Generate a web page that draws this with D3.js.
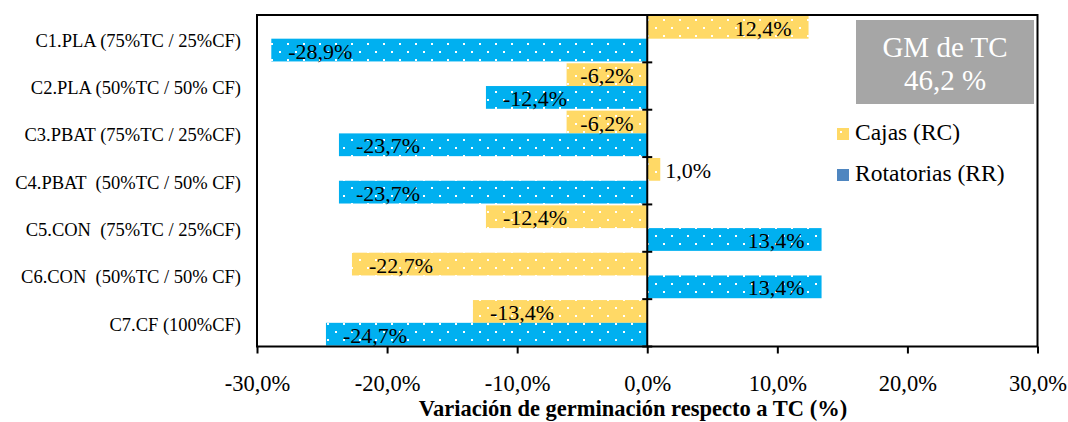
<!DOCTYPE html>
<html>
<head>
<meta charset="utf-8">
<script src="https://cdn.jsdelivr.net/npm/d3@7"></script>
<style>
  html, body { margin: 0; padding: 0; background: #fff; }
  svg { display: block; }
  text { font-family: "Liberation Serif", "Times New Roman", serif; }
</style>
</head>
<body>
<svg id="chart" width="1068" height="422" font-family="Liberation Serif, Times New Roman, serif"></svg>
<script>
// Categories (top to bottom) and the two series, in % of change vs. TC
const categories = [
  "C1.PLA (75%TC / 25%CF)",
  "C2.PLA (50%TC / 50% CF)",
  "C3.PBAT (75%TC / 25%CF)",
  "C4.PBAT  (50%TC / 50% CF)",
  "C5.CON  (75%TC / 25%CF)",
  "C6.CON  (50%TC / 50% CF)",
  "C7.CF (100%CF)"
];
const seriesNames = ["Cajas (RC)", "Rotatorias (RR)"];
const cajas = [12.4, -6.2, -6.2, 1.0, -12.4, -22.7, -13.4];
const rotatorias = [-28.9, -12.4, -23.7, -23.7, 13.4, 13.4, -24.7];
const xTicks = [-30, -20, -10, 0, 10, 20, 30];
const xDomain = [-30, 30];
const axisTitle = "Variación de germinación respecto a TC (%)";
const boxLines = ["GM de TC", "46,2 %"];

const seriesValues = [cajas, rotatorias];
const barColors = ["#FFD966", "#00B0F0"];
const legendColors = ["#FFD966", "#4F86C0"];

const svg = d3.select("#chart");
const plot = { left: 257, right: 1037.5, top: 15, bottom: 346.5 };

const x = d3.scaleLinear().domain(xDomain).range([plot.left, plot.right]);
const y = d3.scaleBand().domain(categories).range([plot.top, plot.bottom]).padding(0);
const ySub = d3.scaleBand().domain(seriesNames).range([0, y.bandwidth()]).paddingOuter(0.04).paddingInner(0);

// one decimal, comma separator, plain hyphen for negatives
const fmt = v => d3.format(".1f")(v).replace(".", ",").replace("\u2212", "-") + "%";

// dotted fill patterns
const defs = svg.append("defs");
barColors.forEach((c, i) => {
  const p = defs.append("pattern")
    .attr("id", "dots" + i)
    .attr("patternUnits", "userSpaceOnUse")
    .attr("width", 16).attr("height", 16)
    .attr("x", 15).attr("y", 11);
  p.append("rect").attr("width", 16).attr("height", 16).attr("fill", c);
  p.append("rect").attr("x", 0).attr("y", 0).attr("width", 2).attr("height", 2).attr("fill", "#fff");
  p.append("rect").attr("x", 8).attr("y", 8).attr("width", 2).attr("height", 2).attr("fill", "#fff");
});

// bars
const rows = [];
categories.forEach((cat, ci) => {
  seriesNames.forEach((s, si) => {
    rows.push({ cat, s, si, v: seriesValues[si][ci] });
  });
});

svg.append("g").selectAll("rect")
  .data(rows)
  .join("rect")
  .attr("x", d => Math.min(x(0), x(d.v)))
  .attr("width", d => Math.abs(x(d.v) - x(0)))
  .attr("y", d => y(d.cat) + ySub(d.s))
  .attr("height", ySub.bandwidth())
  .attr("fill", d => `url(#dots${d.si})`);

// value labels
const labelSize = 22;
const pad = 17;
const labels = svg.append("g")
  .attr("font-size", labelSize)
  .attr("fill", "#000");

rows.forEach(d => {
  const t = labels.append("text")
    .attr("y", y(d.cat) + ySub(d.s) + ySub.bandwidth() / 2 + 8.5)
    .text(fmt(d.v));
  const w = t.node().getComputedTextLength();
  const barW = Math.abs(x(d.v) - x(0));
  if (barW < w) {
    // too short: place just outside the end
    if (d.v >= 0) t.attr("x", x(d.v) + 5).attr("text-anchor", "start");
    else t.attr("x", x(d.v) - 5).attr("text-anchor", "end");
  } else if (barW < w + 2 * pad) {
    t.attr("x", (x(d.v) + x(0)) / 2).attr("text-anchor", "middle");
  } else if (d.v >= 0) {
    t.attr("x", x(d.v) - pad).attr("text-anchor", "end");
  } else {
    t.attr("x", x(d.v) + pad).attr("text-anchor", "start");
  }
});

// plot frame
svg.append("rect")
  .attr("x", plot.left).attr("y", plot.top)
  .attr("width", plot.right - plot.left)
  .attr("height", plot.bottom - plot.top)
  .attr("fill", "none")
  .attr("stroke", "#000")
  .attr("stroke-width", 2);

// zero line with crossing category ticks
svg.append("line")
  .attr("x1", x(0)).attr("x2", x(0))
  .attr("y1", plot.top).attr("y2", plot.bottom)
  .attr("stroke", "#000").attr("stroke-width", 2);

const boundaries = categories.slice(1).map(c => y(c)).concat([plot.bottom]);
svg.append("g").selectAll("line")
  .data(boundaries)
  .join("line")
  .attr("x1", x(0) - 5).attr("x2", x(0) + 5)
  .attr("y1", d => d).attr("y2", d => d)
  .attr("stroke", "#000").attr("stroke-width", 2);

// category labels
svg.append("g")
  .attr("font-size", 18.5)
  .attr("text-anchor", "end")
  .selectAll("text")
  .data(categories)
  .join("text")
  .attr("x", 241)
  .attr("y", d => y(d) + y.bandwidth() / 2 + 8)
  .style("white-space", "pre")
  .text(d => d);

// x axis
const xAxis = svg.append("g")
  .attr("transform", `translate(0,${plot.bottom})`)
  .call(d3.axisBottom(x).tickValues(xTicks).tickFormat(fmt).tickSize(7).tickPadding(22));
xAxis.attr("font-family", null);
xAxis.select(".domain").remove();
xAxis.selectAll(".tick line").attr("stroke", "#000").attr("stroke-width", 2);
xAxis.selectAll(".tick text")
  .attr("font-size", 22.5)
  .attr("fill", "#000");

// axis title
svg.append("text")
  .attr("x", 633).attr("y", 416)
  .attr("text-anchor", "middle")
  .attr("font-size", 22.5)
  .attr("font-weight", "bold")
  .text(axisTitle);

// info box
svg.append("rect")
  .attr("x", 856).attr("y", 20)
  .attr("width", 178).attr("height", 84)
  .attr("fill", "#A6A6A6");
svg.append("g")
  .attr("font-size", 29)
  .attr("fill", "#fff")
  .attr("text-anchor", "middle")
  .selectAll("text")
  .data(boxLines)
  .join("text")
  .attr("x", 945)
  .attr("y", (d, i) => 57 + i * 33)
  .style("white-space", "pre")
  .text(d => d);

// legend
const legend = svg.append("g");
seriesNames.forEach((s, i) => {
  const ly = 128 + i * 41;
  legend.append("rect")
    .attr("x", 837).attr("y", ly)
    .attr("width", 12).attr("height", 12)
    .attr("fill", legendColors[i]);
  if (i === 0) {
    legend.append("rect")
      .attr("x", 840).attr("y", ly + 3)
      .attr("width", 2).attr("height", 2)
      .attr("fill", "#fff");
  }
  legend.append("text")
    .attr("x", 855).attr("y", ly + 12)
    .attr("font-size", 23.5)
    .text(s);
});
</script>
</body>
</html>
